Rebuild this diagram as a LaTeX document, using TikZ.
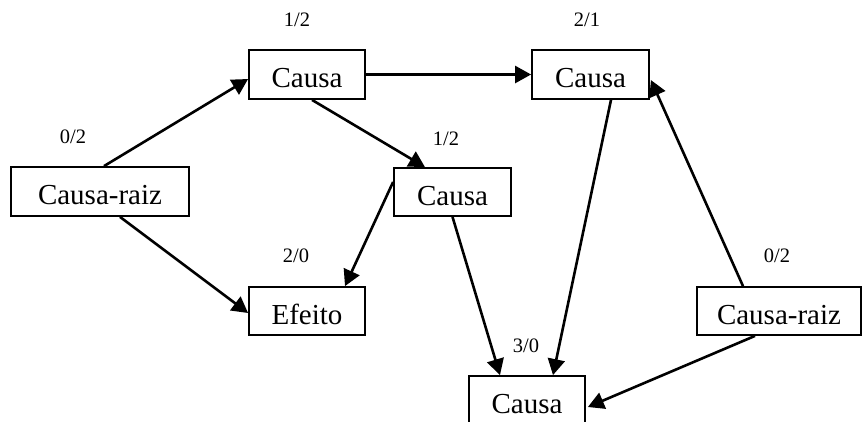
\documentclass[tikz,border=0pt]{standalone}
\usepackage{fontspec}
\setmainfont{Liberation Serif}
\usetikzlibrary{arrows.meta}
\tikzset{
  box/.style={draw, line width=1.8pt, inner sep=0pt, text height=26pt, text depth=0pt,
    font=\fontsize{29}{31}\selectfont},
  cnt/.style={inner sep=0pt, font=\fontsize{20.5}{22}\selectfont},
  link/.style={line width=2.6pt, -{Triangle[length=16pt,width=17pt]}}
}
\begin{document}
\begin{tikzpicture}[x=1pt,y=-1pt]
\clip (0,0) rectangle (865,421);
\fill[white] (0,0) rectangle (865,421);
\node[box, minimum width=178pt, minimum height=49pt] (rl) at (100,191.5) {Causa-raiz};
\node[box, minimum width=116pt, minimum height=49pt] (c1) at (307,74.5) {Causa};
\node[box, minimum width=117pt, minimum height=49pt] (c2) at (590.5,74.5) {Causa};
\node[box, minimum width=117pt, minimum height=48pt] (c3) at (452.5,192) {Causa};
\node[box, minimum width=116pt, minimum height=48pt] (ef) at (307,311) {Efeito};
\node[box, minimum width=164pt, minimum height=48pt] (rr) at (779,311) {Causa-raiz};
\node[box, minimum width=116pt, minimum height=49pt] (cb) at (527,400.5) {Causa};

\node[cnt] (l1) at (73,137) {0/2};
\node[cnt] (l2) at (297,20) {1/2};
\node[cnt] (l3) at (587,20) {2/1};
\node[cnt] (l4) at (446,139) {1/2};
\node[cnt] (l5) at (296,256) {2/0};
\node[cnt] (l6) at (777,256) {0/2};
\node[cnt] (l7) at (526,346) {3/0};

\draw[link] ([xshift=4pt]rl.north) -- ([yshift=-4.5pt]c1.west);
\draw[link] ([xshift=20pt]rl.south) -- ([yshift=-2pt]ef.west);
\draw[link] (c1.east) -- (c2.west);
\draw[link] ([xshift=5pt]c1.south) -- ([xshift=-27.5pt]c3.north);
\draw[link] ([yshift=10pt]c3.west) -- ([xshift=38pt]ef.north);
\draw[link] (c3.south) -- ([xshift=-27pt]cb.north);
\draw[link] ([xshift=20.5pt]c2.south) -- ([xshift=26pt]cb.north);
\draw[link] ([xshift=-36pt]rr.north) -- ([xshift=1pt,yshift=-5.5pt]c2.east);
\draw[link] ([xshift=-24pt]rr.south) -- ([xshift=2pt,yshift=-6.5pt]cb.east);
\end{tikzpicture}
\end{document}
